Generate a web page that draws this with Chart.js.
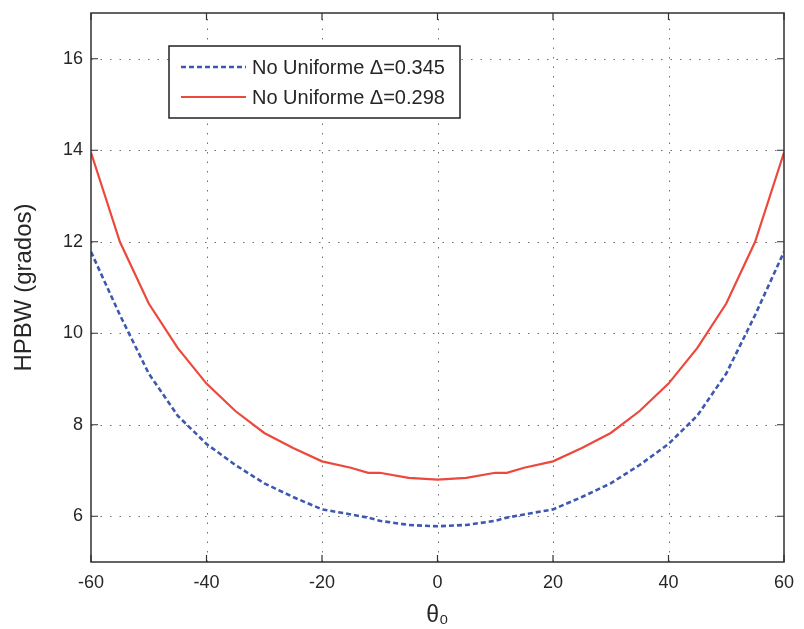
<!DOCTYPE html>
<html>
<head>
<meta charset="utf-8">
<script src="https://cdn.jsdelivr.net/npm/chart.js@4"></script>
<style>
  html, body { margin: 0; padding: 0; background: #ffffff; }
  #wrap { width: 804px; height: 629px; }
</style>
</head>
<body>
<div id="wrap"><canvas id="c" width="804" height="629"></canvas></div>
<script>
// Steering angle (degrees)
const theta = [-60, -55, -50, -45, -40, -35, -30, -25, -20, -15, -12, -10, -5, 0,
               5, 10, 12, 15, 20, 25, 30, 35, 40, 45, 50, 55, 60];
// Half-power beamwidth (degrees), non-uniform array, Δ = 0.345
const hpbw345 = [11.78, 10.40, 9.12, 8.20, 7.58, 7.12, 6.72, 6.42, 6.15, 6.04, 5.97, 5.90, 5.81, 5.78,
                 5.81, 5.90, 5.97, 6.04, 6.15, 6.42, 6.72, 7.12, 7.58, 8.20, 9.12, 10.40, 11.78];
// Half-power beamwidth (degrees), non-uniform array, Δ = 0.298
const hpbw298 = [13.95, 12.00, 10.65, 9.68, 8.90, 8.30, 7.82, 7.49, 7.20, 7.06, 6.95, 6.95, 6.84, 6.80,
                 6.84, 6.95, 6.95, 7.06, 7.20, 7.49, 7.82, 8.30, 8.90, 9.68, 10.65, 12.00, 13.95];

const seriesLabels = ['No Uniforme \u0394=0.345', 'No Uniforme \u0394=0.298'];
const xTicks = [-60, -40, -20, 0, 20, 40, 60];
const yTicks = [6, 8, 10, 12, 14, 16];

const FONT = '"Liberation Sans", Arial, Helvetica, sans-serif';
const INK = '#262626';
const BLUE = 'rgb(62, 88, 178)';
const RED = 'rgb(236, 72, 60)';

const toPoints = (ys) => theta.map((t, i) => ({ x: t, y: ys[i] }));

// Dotted grid behind the curves
const gridPlugin = {
  id: 'dottedGrid',
  beforeDatasetsDraw(chart) {
    const { ctx, chartArea: a, scales: { x, y } } = chart;
    ctx.save();
    ctx.strokeStyle = 'rgba(60,60,60,0.75)';
    ctx.lineWidth = 1;
    ctx.setLineDash([1.5, 8]);
    xTicks.forEach(v => {
      const px = Math.round(x.getPixelForValue(v)) + 0.5;
      if (px <= a.left + 2 || px >= a.right - 2) return;
      ctx.beginPath(); ctx.moveTo(px, a.bottom); ctx.lineTo(px, a.top); ctx.stroke();
    });
    yTicks.forEach(v => {
      const py = Math.round(y.getPixelForValue(v)) + 0.5;
      ctx.beginPath(); ctx.moveTo(a.left, py); ctx.lineTo(a.right, py); ctx.stroke();
    });
    ctx.restore();
  }
};

// Box frame with inward ticks on all four sides, plus the boxed legend
const framePlugin = {
  id: 'frameLegend',
  afterDatasetsDraw(chart) {
    const { ctx, chartArea: a, scales: { x, y } } = chart;
    ctx.save();
    ctx.strokeStyle = '#303030';
    ctx.lineWidth = 1.5;
    ctx.setLineDash([]);
    ctx.strokeRect(a.left, a.top, a.right - a.left, a.bottom - a.top);
    const tl = 7;
    ctx.lineWidth = 1.2;
    xTicks.forEach(v => {
      const px = x.getPixelForValue(v);
      ctx.beginPath();
      ctx.moveTo(px, a.bottom); ctx.lineTo(px, a.bottom - tl);
      ctx.moveTo(px, a.top); ctx.lineTo(px, a.top + tl);
      ctx.stroke();
    });
    yTicks.forEach(v => {
      const py = y.getPixelForValue(v);
      ctx.beginPath();
      ctx.moveTo(a.left, py); ctx.lineTo(a.left + tl, py);
      ctx.moveTo(a.right, py); ctx.lineTo(a.right - tl, py);
      ctx.stroke();
    });

    // Legend box
    const bx = 169, by = 46, bw = 291, bh = 72;
    ctx.fillStyle = '#ffffff';
    ctx.fillRect(bx, by, bw, bh);
    ctx.strokeStyle = '#222222';
    ctx.lineWidth = 1.5;
    ctx.strokeRect(bx, by, bw, bh);
    const rows = [by + 21, by + 51];
    chart.data.datasets.forEach((ds, i) => {
      const ry = rows[i];
      ctx.strokeStyle = ds.borderColor;
      ctx.lineWidth = ds.borderWidth;
      ctx.setLineDash(ds.borderDash || []);
      ctx.beginPath(); ctx.moveTo(181, ry); ctx.lineTo(246, ry); ctx.stroke();
      ctx.setLineDash([]);
      ctx.fillStyle = INK;
      ctx.font = '20px ' + FONT;
      ctx.textAlign = 'left';
      ctx.textBaseline = 'middle';
      ctx.fillText(ds.label, 252, ry + 1);
    });
    ctx.restore();
  }
};

new Chart(document.getElementById('c'), {
  type: 'line',
  data: {
    datasets: [
      {
        label: seriesLabels[0],
        data: toPoints(hpbw345),
        borderColor: BLUE,
        borderWidth: 2.6,
        borderDash: [5, 3],
        pointRadius: 0,
        tension: 0,
        fill: false
      },
      {
        label: seriesLabels[1],
        data: toPoints(hpbw298),
        borderColor: RED,
        borderWidth: 2.2,
        pointRadius: 0,
        tension: 0,
        fill: false
      }
    ]
  },
  options: {
    responsive: false,
    animation: false,
    devicePixelRatio: 1,
    layout: { padding: { top: 13, right: 20, left: 0, bottom: 0 } },
    plugins: {
      legend: { display: false },
      tooltip: { enabled: false }
    },
    scales: {
      x: {
        type: 'linear',
        min: -60,
        max: 60,
        afterBuildTicks: (s) => { s.ticks = xTicks.map(v => ({ value: v })); },
        afterFit: (s) => { s.height = 67; s.paddingLeft = 0; s.paddingRight = 0; },
        grid: { display: false, drawTicks: false },
        border: { display: false },
        ticks: {
          padding: 10,
          color: INK,
          font: { family: FONT, size: 18 },
          maxRotation: 0,
          autoSkip: false
        },
        title: {
          display: true,
          text: '\u03b8\u2080',
          color: INK,
          font: { family: FONT, size: 23 },
          padding: { top: 0, bottom: 0 }
        }
      },
      y: {
        type: 'linear',
        min: 5,
        max: 17,
        afterBuildTicks: (s) => { s.ticks = yTicks.map(v => ({ value: v })); },
        afterFit: (s) => { s.width = 91; s.paddingTop = 0; s.paddingBottom = 0; },
        grid: { display: false, drawTicks: false },
        border: { display: false },
        ticks: {
          padding: 8,
          color: INK,
          font: { family: FONT, size: 18 },
          autoSkip: false
        },
        title: {
          display: true,
          text: 'HPBW (grados)',
          color: INK,
          font: { family: FONT, size: 24 },
          padding: { top: 10, bottom: 0 }
        }
      }
    }
  },
  plugins: [gridPlugin, framePlugin]
});
</script>
</body>
</html>
